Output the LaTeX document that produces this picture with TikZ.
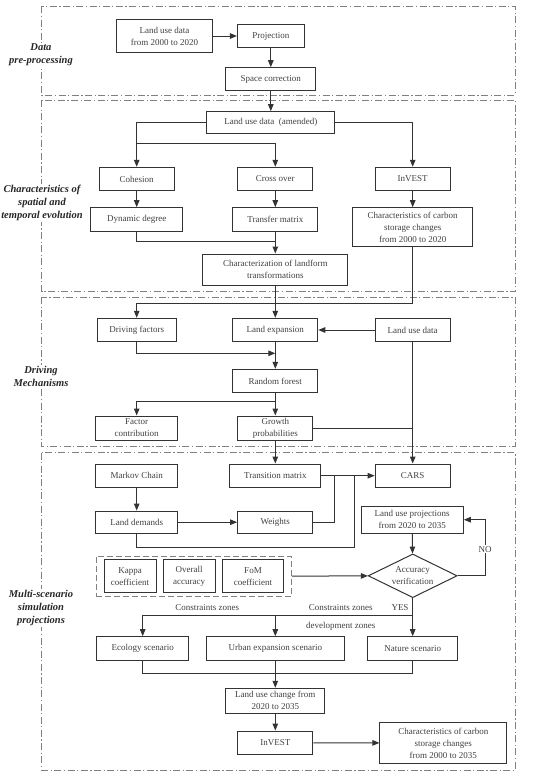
\documentclass[tikz,border=0pt]{standalone}
\usepackage{fontspec}
\setmainfont{Liberation Serif}
\usetikzlibrary{arrows.meta,shapes.geometric,fit}

\begin{document}
\begin{tikzpicture}[x=1pt,y=-1pt,
		>={Triangle[length=7pt,width=5.5pt]},
		every node/.style={font=\fontsize{9}{12}\selectfont},
		box/.style={draw,align=center,inner sep=1pt,text=black!75},
		panel/.style={draw=black!50,line width=0.8pt,dash pattern=on 7pt off 2.5pt on 1.2pt off 2.5pt},
		group/.style={draw=black!50,line width=0.8pt,dash pattern=on 6pt off 3pt},
		stage/.style={fill=white,align=center,inner sep=1pt,text=black!85,font=\fontsize{10.5}{13}\selectfont\bfseries\itshape},
		tag/.style={inner sep=1pt,text=black!75}]
		\useasboundingbox (0,0) rectangle (550,777);
		% stage frames
		\draw[panel] (41.7,6.3) rectangle (515,95);
		\draw[panel] (41.7,100) rectangle (515,291.7);
		\draw[panel] (41.7,297) rectangle (515,446.7);
		\draw[panel] (41.7,452.7) rectangle (515,770);
		\draw
		node[stage] (stage1) at (41, 55){Data\\pre-processing}
		node[stage] (stage2) at (42, 203){Characteristics of\\spatial and\\temporal evolution}
		node[stage] (stage3) at (41, 376){Driving\\Mechanisms}
		node[stage] (stage4) at (41, 608){Multi-scenario\\simulation\\projections};
		% boxes
		\draw[color=black!80, line width=1pt]
		node[box,minimum width=95.6pt,minimum height=33.4pt] (rawdata) at (164.5, 36){Land use data\\from 2000 to 2020}
		node[box,minimum width=66.7pt,minimum height=23.7pt] (projection) at (270.8, 36){Projection}
		node[box,minimum width=90.3pt,minimum height=23pt] (spacecorr) at (270.8, 79.2){Space correction}
		node[box,minimum width=128.3pt,minimum height=22.3pt] (amended) at (270.8, 122.8){Land use data~~(amended)}
		node[box,minimum width=75pt,minimum height=23.4pt] (cohesion) at (136.7, 179){Cohesion}
		node[box,minimum width=75.3pt,minimum height=23.4pt] (crossover) at (275.3, 179){Cross over}
		node[box,minimum width=74.7pt,minimum height=23.4pt] (invest) at (412.7, 179){InVEST}
		node[box,minimum width=92pt,minimum height=24pt] (dyndeg) at (136.7, 219.7){Dynamic degree}
		node[box,minimum width=85pt,minimum height=24pt] (transfer) at (275.3, 219.7){Transfer matrix}
		node[box,minimum width=120.4pt,minimum height=39pt] (carbon2020) at (412.7, 227.2){Characteristics of carbon\\storage changes\\from 2000 to 2020}
		node[box,minimum width=145pt,minimum height=31pt] (landform) at (275.3, 269.5){Characterization of landform\\transformations}
		node[box,minimum width=79.3pt,minimum height=23.4pt] (driving) at (136.7, 330){Driving factors}
		node[box,minimum width=85pt,minimum height=23.4pt] (expansion) at (275.3, 330){Land expansion}
		node[box,minimum width=75pt,minimum height=23.4pt] (landuse) at (412.7, 330){Land use data}
		node[box,minimum width=85pt,minimum height=23.4pt] (forest) at (275.3, 381){Random forest}
		node[box,minimum width=81.6pt,minimum height=24pt] (factor) at (136.7, 428){Factor\\contribution}
		node[box,minimum width=75.3pt,minimum height=24pt] (growth) at (275.3, 428){Growth\\probabilities}
		node[box,minimum width=81.6pt,minimum height=23.3pt] (markov) at (136.7, 475.7){Markov Chain}
		node[box,minimum width=91pt,minimum height=23.3pt] (transition) at (275.3, 475.7){Transition matrix}
		node[box,minimum width=75pt,minimum height=23.3pt] (cars) at (412.7, 475.7){CARS}
		node[box,minimum width=81.6pt,minimum height=22.3pt] (demands) at (136.7, 522.2){Land demands}
		node[box,minimum width=75.3pt,minimum height=22.3pt] (weights) at (275.3, 522.2){Weights}
		node[box,minimum width=102.3pt,minimum height=27.3pt] (projections) at (412.2, 519.7){Land use projections\\from 2020 to 2035}
		node[box,diamond,aspect=2,inner sep=0pt,minimum width=89pt,minimum height=43.7pt] (accuracy) at (412.7, 575.8){Accuracy\\verification}
		node[box,minimum width=52pt,minimum height=32.7pt] (kappa) at (130, 576.3){Kappa\\coefficient}
		node[box,minimum width=51.7pt,minimum height=32.7pt] (overall) at (189.2, 576.3){Overall\\accuracy}
		node[box,minimum width=61.4pt,minimum height=32.7pt] (fom) at (253, 576.3){FoM\\coefficient}
		node[box,minimum width=91.6pt,minimum height=24pt] (ecology) at (142.7, 648.7){Ecology scenario}
		node[box,minimum width=137.6pt,minimum height=24pt] (urban) at (275.3, 648.7){Urban expansion scenario}
		node[box,minimum width=89.6pt,minimum height=24pt] (nature) at (412.7, 648.7){Nature scenario}
		node[box,minimum width=99pt,minimum height=25pt] (change) at (275.3, 700.8){Land use change from\\2020 to 2035}
		node[box,minimum width=75.3pt,minimum height=23.3pt] (invest2) at (275.3, 742.7){InVEST}
		node[box,minimum width=126.7pt,minimum height=40.6pt] (carbon2035) at (443.3, 743){Characteristics of carbon\\storage changes\\from 2000 to 2035};
		\node[group,inner xsep=7.3pt,inner ysep=3.4pt,fit=(kappa)(fom)] (metrics) {};
		% turning points
		\coordinate (split1) at (136.7, 143.3);
		\coordinate (join1) at (275.3, 241);
		\coordinate (fork2) at (136.7, 303.3);
		\coordinate (join2) at (275.3, 353.3);
		\coordinate (split3) at (275.3, 401);
		\coordinate (merge1) at (334.3, 475.7);
		\coordinate (loop1) at (354.3, 547.3);
		\coordinate (merge2) at (354.3, 475.7);
		\coordinate (noturn) at (485, 519.7);
		\coordinate (fork4) at (412.7, 615);
		\coordinate (join4) at (275.3, 673.3);
		% connectors
		\begin{scope}[color=black!80, line width=1pt]
		\draw [->] (rawdata) -- (projection);
			\draw [->] (projection) -- (spacecorr);
			\draw [->] (spacecorr) -- (amended);
		\draw [->] (amended.west) -| (cohesion.north);
			\draw [->] (split1) -| (crossover.north);
		\draw [->] (amended.east) -| (invest.north);
			\draw [->] (cohesion) -- (dyndeg);
			\draw [->] (crossover) -- (transfer);
			\draw [->] (invest) -- (carbon2020);
		\draw (dyndeg.south) |- (join1);
			\draw [->] (transfer) -- (landform);
		\draw [->] (landform) -- (expansion);
		\draw [->] (carbon2020.south) |- (fork2) -- (driving.north);
		\draw [->] (landuse) -- (expansion);
		\draw [->] (landuse) -- (cars);
		\draw [->] (driving.south) |- (join2);
			\draw [->] (expansion) -- (forest);
			\draw [->] (split3) -| (factor.north);
			\draw [->] (forest) -- (growth);
		\draw (growth.east) -- (growth.east -| landuse.south);
		\draw [->] (growth) -- (transition);
		\draw [->] (transition) -- (cars);
			\draw [->] (markov) -- (demands);
			\draw [->] (demands) -- (weights);
			\draw (weights.east) -| (merge1);
			\draw (demands.south) |- (loop1) -- (merge2);
		\draw [->] (projections) -- (accuracy);
		\draw [->] (accuracy.east) -| (noturn) -- (projections.east);
		\draw [->] (metrics) -- (accuracy);
		\draw [->] (accuracy) -- (nature);
			\draw [->] (fork4) -| (ecology.north);
			\draw [->] (fork4 -| urban.north) -- (urban.north);
		\draw (ecology.south) |- (join4) -| (nature.south);
		\draw [->] (urban) -- (change);
		\draw [->] (change) -- (invest2);
		\draw [->] (invest2) -- (carbon2035);
		\end{scope}
		% labels
		\node[tag,fill=white] (nolabel) at (485, 549.3) {NO};
		\node[tag] (yeslabel) at (400, 607.3) {YES};
		\node[tag] (zonesleft) at (207.3, 607.3) {Constraints zones};
		\node[tag] (zonesright) at (340.7, 607.3) {Constraints zones};
		\node[tag] (devzones) at (340.7, 626) {development zones};
\end{tikzpicture}
\end{document}
